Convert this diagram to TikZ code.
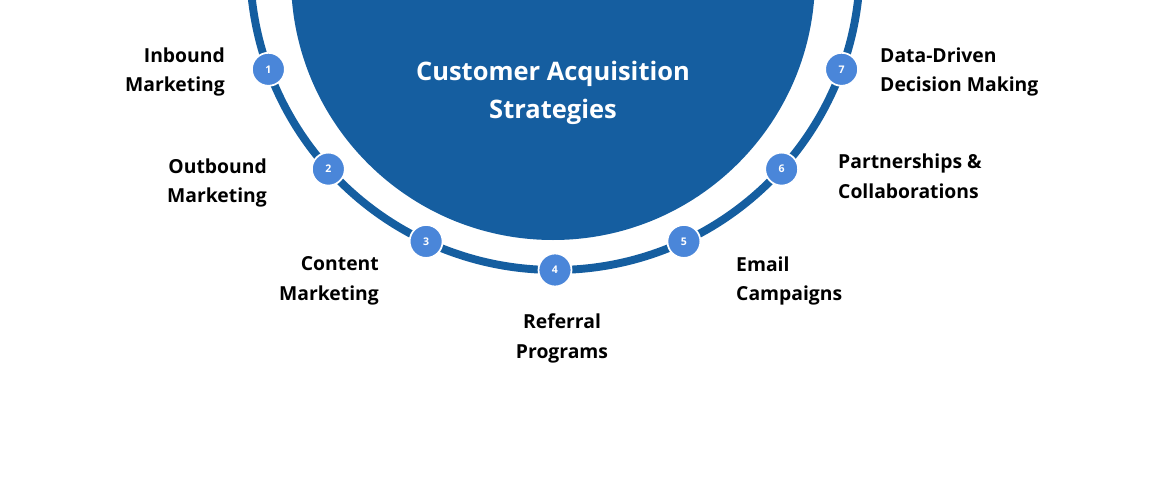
\documentclass[tikz,border=0pt]{standalone}
\usepackage{fontspec}
\setmainfont{Open Sans}
\usetikzlibrary{positioning}
\definecolor{hubblue}{HTML}{155EA0}
\definecolor{dotblue}{HTML}{4A86D9}
\begin{document}
\begin{tikzpicture}[x=0.02cm,y=-0.02cm]
\tikzset{dot/.style={circle, fill=dotblue, draw=white, line width=1pt, minimum size=0.66cm, inner sep=0pt, text=white, font=\fontsize{6}{7}\selectfont\bfseries},
lbl/.style={font=\fontsize{11}{17}\selectfont\bfseries, align=#1},
lbl/.default=left}
\useasboundingbox (0,0) rectangle (1170,480);
\clip (0,0) rectangle (1170,480);
% hub and ring
\fill[hubblue] (553,-22) circle[radius=262];
\draw[hubblue, line width=4.5pt] (555,-35) circle[radius=305];
\node[text=white, font=\fontsize{14.5}{22}\selectfont\bfseries, align=center] (title) at (553,93) {Customer Acquisition\\Strategies};
% numbered dots
\foreach \n/\a in {1/160,2/138,3/115,4/90,5/65,6/42,7/20}
  \node[dot] (d\n) at ([shift={(\a:305)}]555,-35) {\n};
% labels
\node[lbl=right, anchor=east] (l1) at (231,72) {Inbound\\Marketing};
\node[lbl=right, anchor=east] (l2) at (273,183) {Outbound\\Marketing};
\node[lbl=right, anchor=east] (l3) at (385,281) {Content\\Marketing};
\node[lbl=center] (l4) at (562,338) {Referral\\Programs};
\node[lbl=left, anchor=west] (l5) at (730,281) {Email\\Campaigns};
\node[lbl=left, anchor=west] (l6) at (832,176) {Partnerships \&\\Collaborations};
\node[lbl=left, anchor=west] (l7) at (874,72) {Data-Driven\\Decision Making};
\end{tikzpicture}
\end{document}
